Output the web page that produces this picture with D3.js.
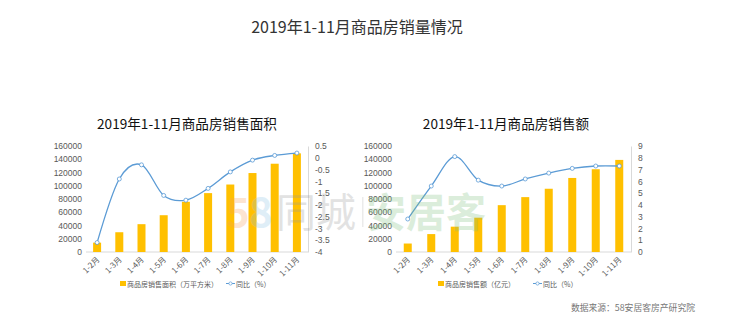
<!DOCTYPE html>
<html>
<head>
<meta charset="utf-8">
<script src="https://cdn.jsdelivr.net/npm/d3@7"></script>
<style>
  html, body { margin: 0; padding: 0; background: #fff; }
  svg { display: block; font-family: "Noto Sans CJK SC", "Noto Sans", sans-serif; }
</style>
</head>
<body>
<svg id="chart" width="744" height="322"></svg>
<script>
// 2019年1-11月 商品房销售数据
const months = ["1-2月", "1-3月", "1-4月", "1-5月", "1-6月", "1-7月", "1-8月", "1-9月", "1-10月", "1-11月"];
const areaValues = [14103, 29829, 42006, 55518, 75786, 88880, 101849, 119179, 133251, 148905]; // 万平方米
const areaYoY = [-3.6, -0.9, -0.3, -1.6, -1.8, -1.3, -0.6, -0.1, 0.1, 0.2]; // %
const amountValues = [12803, 27039, 38220, 51773, 70698, 82839, 95474, 111770, 124935, 139006]; // 亿元
const amountYoY = [2.8, 5.6, 8.1, 6.1, 5.6, 6.2, 6.7, 7.1, 7.3, 7.3]; // %

const leftTicks = [0, 20000, 40000, 60000, 80000, 100000, 120000, 140000, 160000];
const areaYoYTicks = [-4, -3.5, -3, -2.5, -2, -1.5, -1, -0.5, 0, 0.5];
const amountYoYTicks = [0, 1, 2, 3, 4, 5, 6, 7, 8, 9];

const BAR = "#FFC000", LINE = "#5B9BD5", TXT = "#595959";
const svg = d3.select("#chart");

svg.append("text").attr("x", 357).attr("y", 33).attr("text-anchor", "middle")
  .attr("font-size", 16).attr("fill", "#333").text("2019年1-11月商品房销量情况");

function panel(opt) {
  const g = svg.append("g");
  const x = d3.scaleBand().domain(months).range([opt.x0, opt.x1]);
  const yL = d3.scaleLinear().domain([0, 160000]).range([252, 146]);
  const yR = d3.scaleLinear().domain(opt.rDomain).range([252, 146]);

  g.append("text").attr("x", opt.titleX).attr("y", 129).attr("text-anchor", "middle")
    .attr("font-size", 13.6).attr("fill", "#111").text(opt.title);

  // left value axis
  const axL = g.append("g").attr("transform", `translate(${opt.x0 - 4},0)`)
    .call(d3.axisLeft(yL).tickValues(leftTicks).tickSize(0).tickPadding(0).tickFormat(d3.format("d")));
  axL.select(".domain").remove();
  axL.selectAll("text").attr("font-size", 8.5).attr("fill", TXT).attr("font-family", "inherit");

  // right percentage axis
  const axR = g.append("g").attr("transform", `translate(${opt.x1},0)`)
    .call(d3.axisRight(yR).tickValues(opt.rTicks).tickSize(0).tickPadding(7).tickFormat(d => String(d)));
  axR.select(".domain").attr("stroke", "#d9d9d9");
  axR.selectAll("text").attr("font-size", 8.5).attr("fill", TXT).attr("font-family", "inherit");

  // baseline
  g.append("line").attr("x1", opt.x0).attr("x2", opt.x1).attr("y1", yL(0)).attr("y2", yL(0))
    .attr("stroke", "#d9d9d9");

  // bars
  g.selectAll("rect.bar").data(opt.bars).join("rect").attr("class", "bar")
    .attr("x", (d, i) => x(months[i]) + x.bandwidth() / 2 - 4)
    .attr("width", 8)
    .attr("y", d => yL(d)).attr("height", d => yL(0) - yL(d))
    .attr("fill", BAR);

  // month labels
  g.selectAll("text.mlab").data(months).join("text").attr("class", "mlab")
    .attr("transform", d => `translate(${x(d) + x.bandwidth() / 2 + 3},260) rotate(-45)`)
    .attr("text-anchor", "end").attr("font-size", 8).attr("fill", TXT).text(d => d);

  // smoothed year-on-year line
  const pts = opt.line.map((v, i) => [x(months[i]) + x.bandwidth() / 2, yR(v)]);
  g.append("path").attr("d", d3.line().curve(d3.curveCardinal.tension(0))(pts))
    .attr("fill", "none").attr("stroke", LINE).attr("stroke-width", 1.3);
  g.selectAll("circle.pt").data(pts).join("circle").attr("class", "pt")
    .attr("cx", d => d[0]).attr("cy", d => d[1]).attr("r", 2)
    .attr("fill", "#fff").attr("stroke", LINE).attr("stroke-width", 0.8);

  // legend
  const lg = g.append("g").attr("font-size", 7).attr("fill", TXT);
  lg.append("rect").attr("x", opt.legX).attr("y", 281).attr("width", 6).attr("height", 5).attr("fill", BAR);
  lg.append("text").attr("x", opt.legX + 7).attr("y", 286.5).text(opt.barName);
  lg.append("line").attr("x1", opt.legX2).attr("x2", opt.legX2 + 9).attr("y1", 283.5).attr("y2", 283.5)
    .attr("stroke", LINE).attr("stroke-width", 1);
  lg.append("circle").attr("cx", opt.legX2 + 4.5).attr("cy", 283.5).attr("r", 1.6)
    .attr("fill", "#fff").attr("stroke", LINE).attr("stroke-width", 0.7);
  lg.append("text").attr("x", opt.legX2 + 10).attr("y", 286.5).text("同比（%）");
}

panel({
  x0: 86, x1: 308, title: "2019年1-11月商品房销售面积", titleX: 187,
  bars: areaValues, line: areaYoY, rDomain: [-4, 0.5], rTicks: areaYoYTicks,
  barName: "商品房销售面积（万平方米）", legX: 120, legX2: 226
});
panel({
  x0: 396, x1: 631, title: "2019年1-11月商品房销售额", titleX: 506,
  bars: amountValues, line: amountYoY, rDomain: [0, 9], rTicks: amountYoYTicks,
  barName: "商品房销售额（亿元）", legX: 438, legX2: 533
});

// brand watermark
const wm = svg.append("g").attr("font-size", 40).attr("font-weight", "bold").attr("opacity", 0.28);
wm.append("text").attr("x", 226).attr("y", 227).attr("fill", "#f6a25c").text("5");
wm.append("text").attr("x", 249).attr("y", 227).attr("fill", "#8fc3e6").text("8");
wm.append("text").attr("x", 276).attr("y", 227).attr("font-weight", "normal").attr("fill", "#9a9a9a").text("同城");
wm.append("rect").attr("x", 362).attr("y", 197).attr("width", 1.5).attr("height", 30).attr("fill", "#bbbbbb");
wm.append("text").attr("x", 366).attr("y", 227).attr("fill", "#7fbf7f").text("安居客");

svg.append("text").attr("x", 695).attr("y", 311).attr("text-anchor", "end")
  .attr("font-size", 8.8).attr("fill", "#777").text("数据来源：58安居客房产研究院");
</script>
</body>
</html>
